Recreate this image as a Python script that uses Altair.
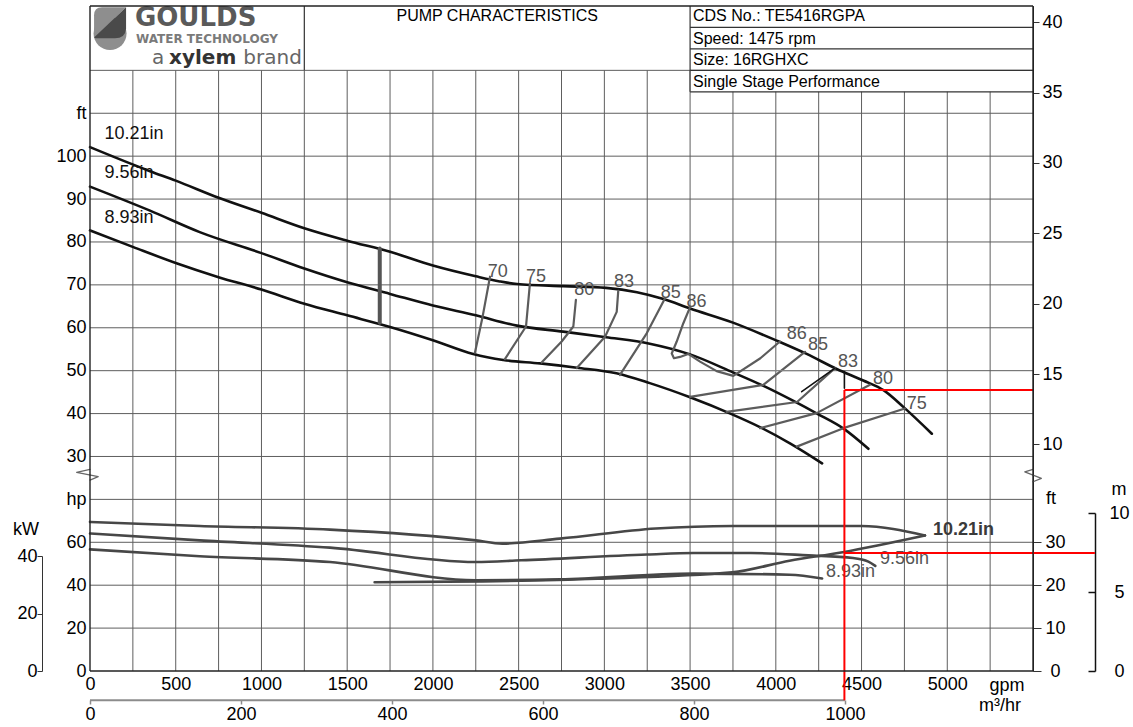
import altair as alt
import pandas as pd

FONT = "Liberation Sans"
LOGO_FONT = "DejaVu Sans"

# ---------------- head curves (ft vs US gpm) ----------------
Q_1021 = [0, 350, 500, 750, 1000, 1250, 1500, 1750, 2000, 2250, 2390, 2490, 2760, 3010, 3190, 3345, 3500, 3750, 4005, 4180, 4355, 4510, 4630, 4745, 4910]
H_1021 = [102.1, 96.5, 94.3, 90.3, 86.8, 83.2, 80.3, 77.7, 74.5, 72.0, 70.8, 70.2, 69.7, 69.3, 68.3, 66.7, 64.5, 61.2, 57.0, 53.9, 50.4, 47.7, 45.4, 41.5, 35.3]
Q_956 = [0, 350, 640, 1000, 1250, 1500, 1750, 2000, 2250, 2490, 2760, 3010, 3265, 3500, 3750, 3925, 4100, 4240, 4395, 4540]
H_956 = [92.9, 87.3, 82.3, 77.4, 73.8, 70.6, 67.9, 65.2, 62.9, 60.5, 59.1, 57.8, 56.3, 53.8, 49.6, 46.5, 43.0, 40.0, 36.5, 31.8]
Q_893 = [0, 253, 500, 750, 1000, 1250, 1500, 1750, 2000, 2235, 2410, 2625, 2840, 3070, 3265, 3500, 3735, 3910, 4085, 4270]
H_893 = [82.7, 78.8, 75.1, 71.8, 68.9, 65.6, 62.9, 60.2, 57.1, 53.9, 52.5, 51.7, 50.7, 49.4, 47.1, 43.8, 40.0, 36.8, 33.0, 28.4]
HEAD_NAMES = ["10.21in", "9.56in", "8.93in"]
HEAD_LABEL_Q = [84, 84, 84]
HEAD_LABEL_H = [105.1, 96.0, 85.7]

# minimum-flow bar
MINFLOW_Q = [1690, 1690]
MINFLOW_H = [78.5, 61.2]

# ---------------- iso-efficiency lines ----------------
EFF_ID = ["70", "75", "80a", "83a", "85a", "86", "85b", "83b", "80b", "75b"]
EFF_Q = [[2333, 2288, 2245], [2566, 2543, 2420], [2834, 2819, 2751, 2634], [3081, 3072, 3004, 2839],
         [3354, 3247, 3091],
         [3500, 3460, 3422, 3393, 3406, 3441, 3489, 3558, 3655, 3752, 3910, 4024],
         [4170, 3927, 3500], [4345, 4124, 3713], [4549, 4238, 3908], [4753, 4394, 4122]]
EFF_H = [[71.9, 62.2, 54.2], [70.4, 60.3, 52.7], [66.5, 60.3, 56.8, 51.9], [68.6, 63.7, 57.9, 50.6],
         [66.9, 58.7, 49.0],
         [64.8, 61.0, 56.8, 54.0, 52.9, 53.2, 53.9, 52.1, 49.9, 48.8, 52.9, 56.8],
         [54.4, 46.7, 43.9], [50.6, 42.7, 40.4], [46.7, 40.1, 36.6], [41.2, 36.6, 32.3]]
EFF_BLACK_Q = [[4345, 4151], [4400, 4400]]
EFF_BLACK_H = [[50.6, 45.1], [49.8, 45.9]]
EFF_LABEL = ["70", "75", "80", "83", "85", "86", "86", "85", "83", "80", "75"]
EFF_LABEL_Q = [2378, 2601, 2883, 3114, 3387, 3538, 4122, 4246, 4421, 4625, 4822]
EFF_LABEL_H = [73.1, 71.8, 68.8, 70.7, 68.2, 66.0, 58.5, 56.0, 52.0, 48.1, 42.2]

# ---------------- power (hp) ----------------
P_Q_1021 = [0, 640, 1400, 2250, 2405, 2740, 3300, 3745, 4500, 4870]
P_1021 = [69.5, 67.6, 65.9, 60.9, 59.4, 61.7, 66.4, 67.6, 67.6, 63.2]
P_Q_956 = [0, 640, 1400, 2250, 2515, 3250, 3520, 3855, 4190, 4450, 4540, 4580]
P_956 = [64.1, 60.9, 57.5, 50.8, 51.6, 54.3, 55.0, 55.0, 53.9, 52.7, 51.0, 49.0]
P_Q_893 = [0, 640, 1400, 2250, 2740, 3520, 4080, 4270]
P_893 = [56.7, 53.5, 50.8, 42.3, 42.7, 45.4, 44.9, 43.1]
PWR_LABEL_Q = [4917, 4607, 4292]
PWR_LABEL_HP = [65.6, 52.1, 46.2]

# ---------------- NPSHr (ft) ----------------
N_Q = [1660, 2290, 2960, 3745, 4080, 4390, 4870]
N_FT = [20.7, 20.9, 21.5, 23.0, 25.7, 27.7, 31.6]

# ---------------- duty point ----------------
DUTY_Q = 4400
DUTY_HEAD = 45.5
DUTY_NPSH = 27.5

# ---------------- ticks / grid ----------------
GPM_TICKS = [0, 500, 1000, 1500, 2000, 2500, 3000, 3500, 4000, 4500, 5000]
GRID_Q = list(range(250, 5500, 250))
FT_TICKS = [30, 40, 50, 60, 70, 80, 90, 100]
GRID_FT = [30, 40, 50, 60, 70, 80, 90, 100, 110, 120]
HP_TICKS = [0, 20, 40, 60]
GRID_HP = [20, 40, 60, 80]
KW_TICKS = [0, 20, 40]
M_HEAD_TICKS = [10, 15, 20, 25, 30, 35, 40]
NPSH_FT_TICKS = [0, 10, 20, 30]
NPSH_M_TICKS = [0, 5, 10]
M3H_TICKS = [0, 200, 400, 600, 800, 1000]

HEADER_TEXT = ["CDS No.: TE5416RGPA", "Speed: 1475 rpm", "Size: 16RGHXC", "Single Stage Performance"]

# ---------------- scales ----------------
XS = alt.Scale(domain=[0, 5500], nice=False, zero=False)
YFT = alt.Scale(domain=[-20, 135], nice=False, zero=False)
YHP = alt.Scale(domain=[0, 310], nice=False, zero=False)
YNF = alt.Scale(domain=[0, 155], nice=False, zero=False)
YHM = alt.Scale(domain=[-20 / 3.28084, 135 / 3.28084], nice=False, zero=False)
YKW = alt.Scale(domain=[0, 40], range=[665, 550], nice=False, zero=False)
YNM = alt.Scale(domain=[0, 10], range=[665, 507], nice=False, zero=False)
XM3 = alt.Scale(domain=[0, 1000], range=[0, 755], nice=False, zero=False)


def frame(names, qs, vs):
    rows = []
    for n, q, v in zip(names, qs, vs):
        for i, (a, b) in enumerate(zip(q, v)):
            rows.append({"name": n, "i": i, "q": a, "v": b})
    return pd.DataFrame(rows)


def line(df, yscale, color, width, interp="linear"):
    return alt.Chart(df).mark_line(color=color, strokeWidth=width, strokeJoin="round",
                                   strokeCap="round", interpolate=interp).encode(
        x=alt.X("q:Q", scale=XS, axis=None),
        y=alt.Y("v:Q", scale=yscale, axis=None),
        detail="name:N", order="i:Q")


def segs(rows, yscale, color, width):
    df = pd.DataFrame(rows, columns=["x1", "x2", "y1", "y2"])
    return alt.Chart(df).mark_rule(color=color, strokeWidth=width).encode(
        x=alt.X("x1:Q", scale=XS, axis=None), x2="x2:Q",
        y=alt.Y("y1:Q", scale=yscale, axis=None), y2="y2:Q")


def texts(txt, qs, vs, yscale, **mk):
    df = pd.DataFrame({"t": txt, "q": qs, "v": vs})
    base = dict(font=FONT, fontSize=18, baseline="middle", align="left", color="#000")
    base.update(mk)
    return alt.Chart(df).mark_text(**base).encode(
        x=alt.X("q:Q", scale=XS, axis=None),
        y=alt.Y("v:Q", scale=yscale, axis=None), text="t:N")


GRID_C = "#5e5e5e"

# ---------------- background: grid + header ----------------
vgrid = alt.Chart(pd.DataFrame({"q": GRID_Q})).mark_rule(color=GRID_C, strokeWidth=1).encode(
    x=alt.X("q:Q", scale=XS, axis=None),
    y=alt.Y(datum=120, type="quantitative", scale=YFT, axis=None), y2=alt.Y2(datum=-20))
hgrid = alt.Chart(pd.DataFrame({"v": GRID_FT})).mark_rule(color=GRID_C, strokeWidth=1).encode(
    y=alt.Y("v:Q", scale=YFT, axis=None),
    x=alt.X(datum=0, type="quantitative", scale=XS, axis=None), x2=alt.X2(datum=5500))
white_box = alt.Chart(pd.DataFrame({"a": [0]})).mark_rect(fill="white").encode(
    x=alt.X(datum=3500, type="quantitative", scale=XS, axis=None), x2=alt.X2(datum=5500),
    y=alt.Y(datum=115, type="quantitative", scale=YFT, axis=None), y2=alt.Y2(datum=120))
header_lines = segs([(1250, 1250, 120, 135), (3500, 3500, 115, 135), (3500, 5500, 130, 130),
                     (3500, 5500, 125, 125), (3500, 5500, 115, 115), (3500, 5500, 120, 120)],
                    YFT, "#333", 1.2)

logo_circle = alt.Chart(pd.DataFrame({"q": [117], "v": [128.6]})).mark_point(
    shape="circle", filled=True, fill="#8e8e8e", size=1089, opacity=1, strokeWidth=0).encode(
    x=alt.X("q:Q", scale=XS, axis=None), y=alt.Y("v:Q", scale=YFT, axis=None))
logo_top = alt.Chart(pd.DataFrame({"q": [117], "v": [131.0]})).mark_point(
    shape="M -1 0.9 L -1 -0.5 Q -1 -1 -0.5 -1 L 1 -1 Z", filled=True, fill="#8e8e8e",
    size=1024, opacity=1, strokeWidth=0).encode(
    x=alt.X("q:Q", scale=XS, axis=None), y=alt.Y("v:Q", scale=YFT, axis=None))
logo_dark = alt.Chart(pd.DataFrame({"q": [117], "v": [131.0]})).mark_point(
    shape="M -1 0.9 L 1 -1 L 1 0.35 Q 0.95 0.95 0.3 0.95 L -0.9 0.95 Z", filled=True,
    fill="#4a4a4a", size=1024, opacity=1, strokeWidth=0).encode(
    x=alt.X("q:Q", scale=XS, axis=None), y=alt.Y("v:Q", scale=YFT, axis=None))

logo_txt = alt.layer(
    texts(["GOULDS"], [262], [132.2], YFT, font=LOGO_FONT, fontSize=26, fontWeight="bold", color="#5a5a5a"),
    texts(["WATER TECHNOLOGY"], [268], [127.4], YFT, font=LOGO_FONT, fontSize=12, fontWeight="bold", color="#7a7a7a"),
    texts(["a"], [362], [121.5], YFT, font=LOGO_FONT, fontSize=20, baseline="alphabetic", color="#666"),
    texts(["xylem"], [461], [121.5], YFT, font=LOGO_FONT, fontSize=20, fontWeight="bold", baseline="alphabetic", color="#333"),
    texts(["brand"], [1236], [121.5], YFT, font=LOGO_FONT, fontSize=20, baseline="alphabetic", align="right", color="#666"),
)
header_txt = alt.layer(
    texts(["PUMP CHARACTERISTICS"], [2375], [132.7], YFT, fontSize=16, align="center"),
    texts(HEADER_TEXT, [3517] * 4, [132.6, 127.3, 122.4, 117.3], YFT, fontSize=16),
)

bg = alt.layer(vgrid, hgrid, white_box, header_lines, logo_circle, logo_top, logo_dark, logo_txt, header_txt)

# ---------------- power layer ----------------
hp_grid = alt.Chart(pd.DataFrame({"v": GRID_HP})).mark_rule(color=GRID_C, strokeWidth=1).encode(
    y=alt.Y("v:Q", scale=YHP, axis=None),
    x=alt.X(datum=0, type="quantitative", scale=XS, axis=None), x2=alt.X2(datum=5500))
pwr = line(frame(HEAD_NAMES, [P_Q_1021, P_Q_956, P_Q_893], [P_1021, P_956, P_893]), YHP, "#474747", 2.6, "monotone")
pwr_lbl = alt.layer(
    texts(["10.21in"], PWR_LABEL_Q[:1], PWR_LABEL_HP[:1], YHP, fontWeight="bold", color="#3a3a3a"),
    texts(HEAD_NAMES[1:], PWR_LABEL_Q[1:], PWR_LABEL_HP[1:], YHP, color="#555"),
)
power = alt.layer(hp_grid, pwr, pwr_lbl)

# ---------------- NPSH layer ----------------
npsh_line = line(frame(["npsh"], [N_Q], [N_FT]), YNF, "#474747", 2.6, "monotone")
npsh_red = segs([(DUTY_Q, 5861, DUTY_NPSH, DUTY_NPSH)], YNF, "#ff0000", 2)
npsh = alt.layer(npsh_line, npsh_red)

# ---------------- foreground: head curves, efficiency, labels ----------------
head = line(frame(HEAD_NAMES, [Q_1021, Q_956, Q_893], [H_1021, H_956, H_893]), YFT, "#111", 2.6, "monotone")
eff = line(frame(EFF_ID, EFF_Q, EFF_H), YFT, "#5c5c5c", 2.2)
eff_black = line(frame(["b1", "b2"], EFF_BLACK_Q, EFF_BLACK_H), YFT, "#111", 1.6)
minflow = line(frame(["min"], [MINFLOW_Q], [MINFLOW_H]), YFT, "#555", 4)
small_grey = segs([(3927, 4189, 50.0, 50.0)], YFT, "#8a8a8a", 1)
red = segs([(DUTY_Q, DUTY_Q, DUTY_HEAD, -26.8), (DUTY_Q, 5500, DUTY_HEAD, DUTY_HEAD)], YFT, "#ff0000", 2)
m3h_line = segs([(0, 4403, -26.8, -26.8)], YFT, "#8c8c8c", 2)
breaks = line(frame(["L", "R"], [[0, -78, 48, 0], [5500, 5452, 5549, 5500]],
                    [[27.0, 26.3, 25.3, 24.5], [27.0, 26.4, 24.9, 24.1]]), YFT, "#666", 1.2)
borders = segs([(0, 5500, 135, 135), (0, 5500, -20, -20), (0, 0, -20, 135), (5500, 5500, -20, 135)],
               YFT, "#222", 1.4)
head_lbl = texts(HEAD_NAMES, HEAD_LABEL_Q, HEAD_LABEL_H, YFT, color="#111")
eff_lbl = texts(EFF_LABEL, EFF_LABEL_Q, EFF_LABEL_H, YFT, color="#555", align="center")
unit_lbl = alt.layer(
    texts(["gpm"], [5348], [-23.5], YFT, align="center"),
    texts(["m³/hr"], [5307], [-28.2], YFT, align="center"),
    texts(["kW"], [-373], [12.9], YFT, align="center"),
    texts(["m"], [6001], [22.2], YFT, align="center"),
    texts(["ft"], [5605], [20.1], YFT, align="center"),
)
fg = alt.layer(head, eff, eff_black, minflow, small_grey, m3h_line, red, breaks, borders,
               head_lbl, eff_lbl, unit_lbl)


# ---------------- axes (each on its own invisible carrier) ----------------
def y_axis(vals, yscale, axis):
    df = pd.DataFrame({"v": vals})
    return alt.Chart(df).mark_point(opacity=0, size=1).encode(
        x=alt.X(datum=0, type="quantitative", scale=XS, axis=None),
        y=alt.Y("v:Q", scale=yscale, axis=axis))


def x_axis(vals, xscale, axis):
    df = pd.DataFrame({"q": vals})
    return alt.Chart(df).mark_point(opacity=0, size=1).encode(
        x=alt.X("q:Q", scale=xscale, axis=axis),
        y=alt.Y(datum=0, type="quantitative", scale=YFT, axis=None))


gpm_ax = x_axis(GPM_TICKS, XS, alt.Axis(
    orient="bottom", values=GPM_TICKS, format="d", ticks=False, domain=False, grid=False,
    labelPadding=4, labelFlush=False, labelOverlap=False, title=None))
m3h_ax = x_axis(M3H_TICKS, XM3, alt.Axis(
    orient="bottom", offset=29, values=M3H_TICKS, format="d", tickSize=4, tickColor="#8c8c8c",
    tickWidth=1.5, domain=False, labelPadding=1, labelFlush=False,
    labelOverlap=False, grid=False, title=None))
ft_ax = y_axis(FT_TICKS + [110], YFT, alt.Axis(
    orient="left", values=FT_TICKS + [110], labelExpr="datum.value == 110 ? 'ft' : datum.label",
    ticks=False, domain=False, grid=False, labelPadding=4, title=None))
hp_ax = y_axis(HP_TICKS + [80], YHP, alt.Axis(
    orient="left", values=HP_TICKS + [80], labelExpr="datum.value == 80 ? 'hp' : datum.label",
    ticks=False, domain=False, grid=False, labelPadding=4, title=None))
nft_ax = y_axis(NPSH_FT_TICKS, YNF, alt.Axis(
    orient="right", values=NPSH_FT_TICKS, tickSize=8, tickColor="#333", domain=True,
    domainColor="#222", labelAlign="center", labelPadding=14, grid=False, title=None))
headm_ax = y_axis(M_HEAD_TICKS, YHM, alt.Axis(
    orient="right", values=M_HEAD_TICKS, tickSize=6, tickColor="#333", domain=True,
    domainColor="#222", labelPadding=3, grid=False, title=None))
kw_ax = y_axis(KW_TICKS, YKW, alt.Axis(
    orient="left", offset=48, values=KW_TICKS, tickSize=5, tickColor="#333", domain=True,
    domainColor="#333", labelPadding=0, grid=False, title=None))
nm_ticks_ax = y_axis(NPSH_M_TICKS, YNM, alt.Axis(
    orient="left", offset=-1005, values=NPSH_M_TICKS, tickSize=7, tickColor="#111", tickWidth=1.5,
    domain=True, domainColor="#111", domainWidth=1.5, labels=False, grid=False, title=None))
nm_labels_ax = y_axis(NPSH_M_TICKS, YNM, alt.Axis(
    orient="right", offset=62, values=NPSH_M_TICKS, ticks=False, tickSize=0, domain=False,
    labelAlign="center", labelPadding=24, grid=False, title=None))

chart = alt.layer(
    bg, power, npsh, fg,
    gpm_ax, m3h_ax, ft_ax, hp_ax, nft_ax, headm_ax, kw_ax, nm_ticks_ax, nm_labels_ax
).resolve_scale(x="independent", y="independent").properties(
    width=943, height=665,
    autosize=alt.AutoSizeParams(type="none"),
    padding={"left": 90, "top": 6, "right": 100, "bottom": 56},
    background="white",
).configure_axis(
    labelFont=FONT, labelFontSize=18, labelColor="#000", titleFont=FONT
).configure_view(stroke=None)

chart.save("out.html", embed_options={"renderer": "svg", "actions": False})
